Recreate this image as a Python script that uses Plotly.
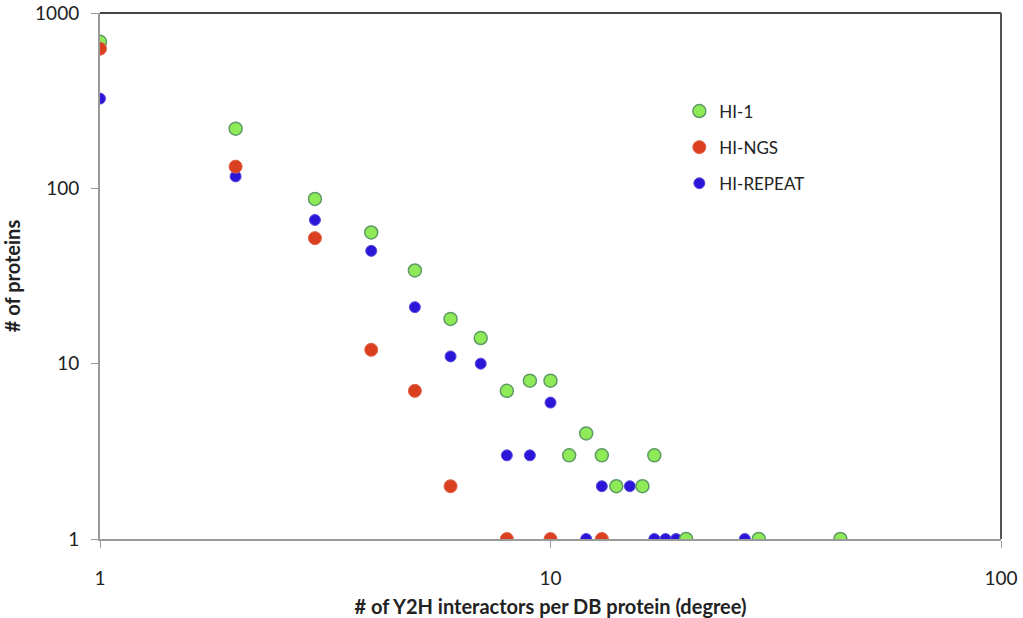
import plotly.graph_objects as go

# Data
hi1_x = [1, 2, 3, 4, 5, 6, 7, 8, 9, 10, 11, 12, 13, 14, 16, 17, 20, 29, 44]
hi1_y = [685, 219, 87, 56, 34, 18, 14, 7, 8, 8, 3, 4, 3, 2, 2, 3, 1, 1, 1]

ngs_x = [1, 2, 3, 4, 5, 6, 8, 10, 13]
ngs_y = [626, 133, 52, 12, 7, 2, 1, 1, 1]

rep_x = [1, 2, 3, 4, 5, 6, 7, 8, 9, 10, 12, 13, 15, 17, 18, 19, 27]
rep_y = [325, 117, 66, 44, 21, 11, 10, 3, 3, 6, 1, 2, 2, 1, 1, 1, 1]

x_ticks = [1, 10, 100]
y_ticks = [1, 10, 100, 1000]

FONT = "Lato"

fig = go.Figure()
fig.add_trace(go.Scatter(
    x=rep_x, y=rep_y, mode="markers", name="HI-REPEAT",
    legendgroup="c", legendrank=3,
    marker=dict(size=11, color="#2B16D8", line=dict(color="#5A4BE0", width=1)),
))
fig.add_trace(go.Scatter(
    x=hi1_x, y=hi1_y, mode="markers", name="HI-1",
    legendgroup="a", legendrank=1,
    marker=dict(size=13, color="#8FEA58", line=dict(color="#5E9A66", width=1.5)),
))
fig.add_trace(go.Scatter(
    x=ngs_x, y=ngs_y, mode="markers", name="HI-NGS",
    legendgroup="b", legendrank=2,
    marker=dict(size=13, color="#DA3F1F", line=dict(color="#E0644A", width=1)),
))

fig.update_layout(
    width=1023, height=618,
    margin=dict(l=100, r=22, t=13, b=79),
    paper_bgcolor="white", plot_bgcolor="white",
    font=dict(family=FONT, color="#222222"),
    showlegend=True,
    legend=dict(
        x=0.643, y=0.847, xanchor="left", yanchor="top",
        font=dict(family=FONT, size=17, color="#222222"),
        traceorder="grouped", tracegroupgap=11,
        bgcolor="rgba(0,0,0,0)", itemwidth=30,
    ),
    xaxis=dict(
        type="log", range=[0, 2], automargin=False,
        tickvals=x_ticks, ticktext=[str(v) for v in x_ticks],
        showgrid=False, zeroline=False,
        showline=True, linecolor="#9a9a9a", linewidth=2,
        ticks="outside", ticklen=7, tickcolor="#9a9a9a", tickwidth=1,
        ticklabelstandoff=14,
        tickfont=dict(family=FONT, size=19, color="#222222"),
        title=dict(text="<b># of Y2H interactors per DB protein (degree)</b>",
                   font=dict(family=FONT, size=20, color="#222222"), standoff=12),
    ),
    yaxis=dict(
        type="log", range=[0, 3], automargin=False,
        tickvals=y_ticks, ticktext=[str(v) for v in y_ticks],
        showgrid=False, zeroline=False,
        showline=True, linecolor="#9a9a9a", linewidth=2,
        ticks="outside", ticklen=7, tickcolor="#9a9a9a", tickwidth=1,
        ticklabelstandoff=8,
        tickfont=dict(family=FONT, size=19, color="#222222"),
        title=dict(text="<b># of proteins</b>",
                   font=dict(family=FONT, size=20, color="#222222"), standoff=24),
    ),
    shapes=[
        dict(type="line", xref="paper", yref="paper", x0=0, x1=1, y0=1, y1=1,
             line=dict(color="#444444", width=2)),
        dict(type="line", xref="paper", yref="paper", x0=1, x1=1, y0=0, y1=1,
             line=dict(color="#555555", width=2)),
    ],
)

fig.write_html("out.html")
